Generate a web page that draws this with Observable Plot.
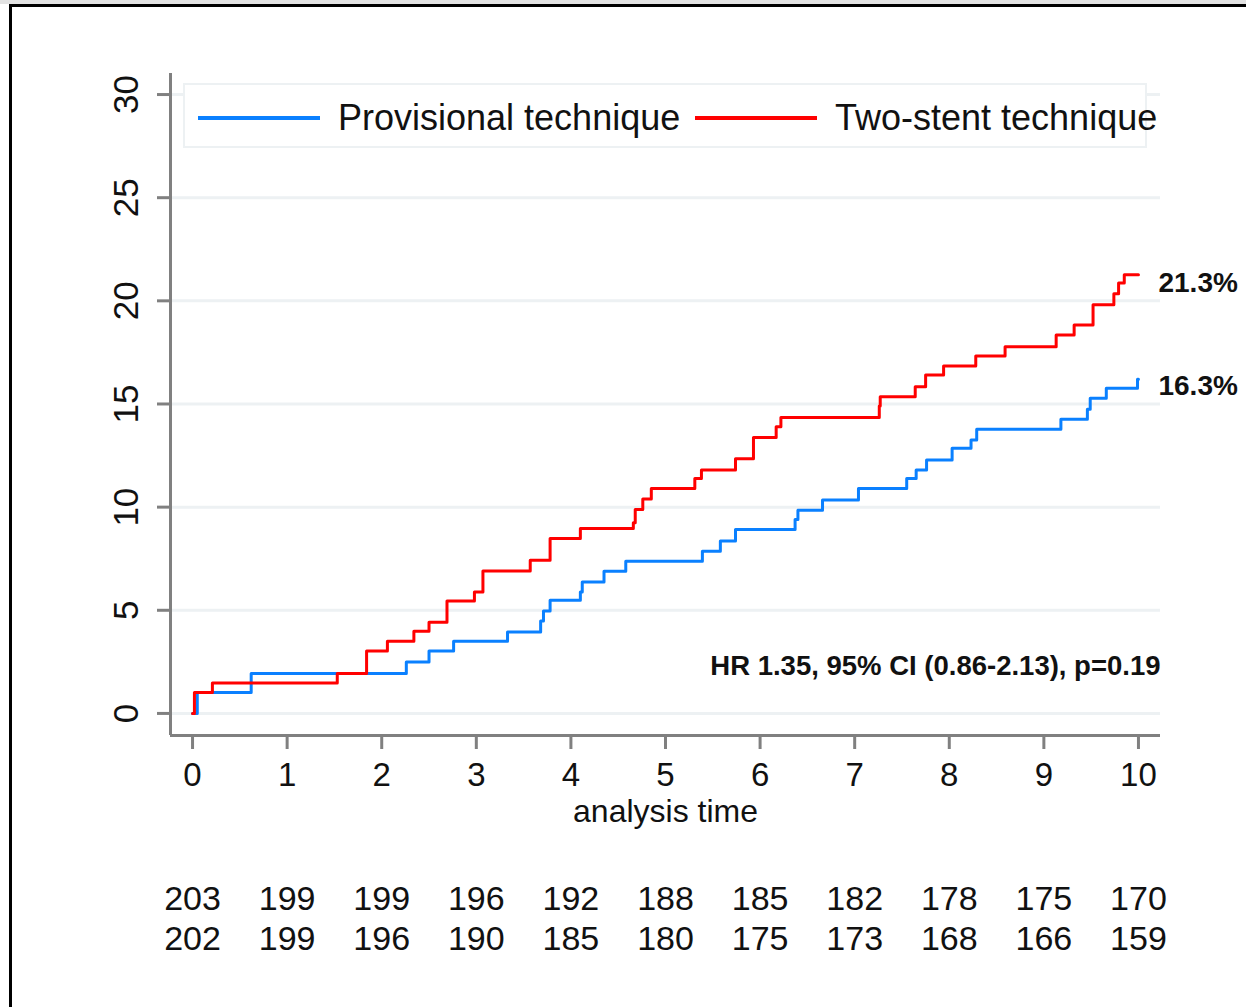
<!DOCTYPE html>
<html>
<head>
<meta charset="utf-8">
<script src="https://cdn.jsdelivr.net/npm/d3@7"></script>
<script src="https://cdn.jsdelivr.net/npm/@observablehq/plot@0.6"></script>
<style>
  html, body { margin: 0; padding: 0; background: #fff; }
  #wrap { position: relative; width: 1246px; height: 1007px; overflow: hidden; background: #fff;
          font-family: "Liberation Sans", Arial, sans-serif; }
  #wrap svg { position: absolute; left: 0; top: 0; }
  .edge { position: absolute; background: #000; }
  #legend { position: absolute; left: 183px; top: 83px; width: 960px; height: 61px;
            border: 2px solid #edf1f3; background: #fff; }
  #legend .sw { position: absolute; height: 4px; width: 122px; top: 31px; }
  #legend .lt { position: absolute; font-size: 36px; line-height: 36px; top: 15px; color: #111; white-space: nowrap; }
</style>
</head>
<body>
<div id="wrap">
  <div class="edge" style="left:0;top:0;width:1246px;height:4px;background:#e2e2e2"></div>
  <div class="edge" style="left:9px;top:4px;width:1237px;height:3px"></div>
  <div class="edge" style="left:9px;top:4px;width:3px;height:1003px"></div>
</div>
<script>
// ---- data ----
const xTicks = [0, 1, 2, 3, 4, 5, 6, 7, 8, 9, 10];
const yTicks = [0, 5, 10, 15, 20, 25, 30];
const seriesNames = ["Provisional technique", "Two-stent technique"];
const seriesColors = ["#0a80ff", "#ff0000"];

// Provisional technique (cumulative incidence, %)
const provTime = [0, 0.05, 0.62, 2.26, 2.50, 2.76, 3.33, 3.68, 3.71, 3.78, 4.10, 4.12, 4.35, 4.58,
                  5.39, 5.58, 5.74, 6.37, 6.40, 6.66, 7.04, 7.55, 7.65, 7.76, 8.03, 8.23, 8.29,
                  9.18, 9.46, 9.49, 9.66, 9.99, 10.0];
const provRisk = [0, 1.02, 1.94, 2.49, 3.03, 3.50, 3.95, 4.48, 4.97, 5.49, 5.89, 6.37, 6.89, 7.38,
                  7.86, 8.36, 8.92, 9.40, 9.85, 10.34, 10.90, 11.39, 11.80, 12.28, 12.85, 13.25, 13.77,
                  14.26, 14.74, 15.28, 15.76, 16.20, 16.20];

// Two-stent technique (cumulative incidence, %)
const twoTime = [0, 0.02, 0.21, 1.53, 1.84, 2.06, 2.34, 2.50, 2.69, 2.98, 3.07, 3.57, 3.78, 4.10,
                 4.66, 4.68, 4.76, 4.85, 5.31, 5.38, 5.74, 5.93, 6.17, 6.22, 7.26, 7.27, 7.64,
                 7.75, 7.94, 8.28, 8.59, 9.13, 9.32, 9.52, 9.74, 9.79, 9.85, 10.0];
const twoRisk = [0, 1.02, 1.47, 1.94, 3.03, 3.50, 3.98, 4.42, 5.45, 5.89, 6.90, 7.43, 8.48, 8.97,
                 9.24, 9.89, 10.40, 10.90, 11.39, 11.80, 12.34, 13.38, 13.90, 14.35, 14.90, 15.35, 15.84,
                 16.40, 16.84, 17.33, 17.78, 18.35, 18.83, 19.81, 20.34, 20.86, 21.26, 21.26];

const endLabels = ["21.3%", "16.3%"];
const endValues = [21.3, 16.3];
const hrText = "HR 1.35, 95% CI (0.86-2.13), p=0.19";
const xAxisLabel = "analysis time";

// numbers at risk
const atRiskProv = [203, 199, 199, 196, 192, 188, 185, 182, 178, 175, 170];
const atRiskTwo  = [202, 199, 196, 190, 185, 180, 175, 173, 168, 166, 159];

// ---- chart ----
const xDomain = [-0.233, 10.233];
const yDomain = [-1.07, 31.02];
const font = '"Liberation Sans", Arial, sans-serif';

const prov = provTime.map((t, i) => ({t, v: provRisk[i]}));
const two = twoTime.map((t, i) => ({t, v: twoRisk[i]}));
const ends = endLabels.map((label, i) => ({t: 10, v: endValues[i], label}));
const risk1 = xTicks.map((t, i) => ({t, n: String(atRiskProv[i])}));
const risk2 = xTicks.map((t, i) => ({t, n: String(atRiskTwo[i])}));

const chart = Plot.plot({
  width: 1246,
  height: 1007,
  marginLeft: 170,
  marginRight: 86,
  marginTop: 73,
  marginBottom: 272,
  x: {domain: xDomain},
  y: {domain: yDomain},
  style: {fontFamily: font, background: "transparent", color: "#111"},
  marks: [
    Plot.ruleY(yTicks, {stroke: "#edf1f3", strokeWidth: 3}),
    Plot.ruleX([xDomain[0]], {stroke: "#808080", strokeWidth: 3}),
    Plot.ruleY([yDomain[0]], {stroke: "#808080", strokeWidth: 3}),
    Plot.axisX({ticks: xTicks, tickSize: 14, tickFormat: () => "", stroke: "#808080", strokeWidth: 3, label: null}),
    Plot.axisY({ticks: yTicks, tickSize: 13, tickFormat: () => "", stroke: "#808080", strokeWidth: 3, label: null}),
    Plot.text(xTicks, {x: d => d, text: d => String(d), frameAnchor: "bottom", dy: 50, fontSize: 33, fill: "#111"}),
    Plot.text(yTicks, {y: d => d, text: d => String(d), frameAnchor: "left", textAnchor: "middle", lineAnchor: "middle", dx: -44, rotate: -90, fontSize: 35, fill: "#111"}),
    Plot.text([xAxisLabel], {x: 5, text: d => d, frameAnchor: "bottom", dy: 86, fontSize: 32, fill: "#111"}),
    Plot.line(prov, {x: "t", y: "v", curve: "step-after", stroke: seriesColors[0], strokeWidth: 3}),
    Plot.line(two, {x: "t", y: "v", curve: "step-after", stroke: seriesColors[1], strokeWidth: 3}),
    Plot.text(ends, {x: "t", y: "v", text: "label", textAnchor: "start", dx: 20, dy: 9, fontSize: 28, fontWeight: "bold", fill: "#111"}),
    Plot.text([hrText], {text: d => d, frameAnchor: "bottom-right", textAnchor: "end", dy: -61, fontSize: 27.5, fontWeight: "bold", fill: "#111"}),
    Plot.text(risk1, {x: "t", text: "n", frameAnchor: "bottom", dy: 174, fontSize: 34, fill: "#111"}),
    Plot.text(risk2, {x: "t", text: "n", frameAnchor: "bottom", dy: 214, fontSize: 34, fill: "#111"})
  ]
});

const wrap = document.getElementById("wrap");
wrap.insertBefore(chart, wrap.firstChild);

// legend
const legend = document.createElement("div");
legend.id = "legend";
const pos = [{sw: 13, lt: 153}, {sw: 510, lt: 650}];
seriesNames.forEach((name, i) => {
  const sw = document.createElement("span");
  sw.className = "sw";
  sw.style.left = pos[i].sw + "px";
  sw.style.background = seriesColors[i];
  const lt = document.createElement("span");
  lt.className = "lt";
  lt.style.left = pos[i].lt + "px";
  lt.textContent = name;
  legend.appendChild(sw);
  legend.appendChild(lt);
});
wrap.appendChild(legend);
</script>
</body>
</html>
